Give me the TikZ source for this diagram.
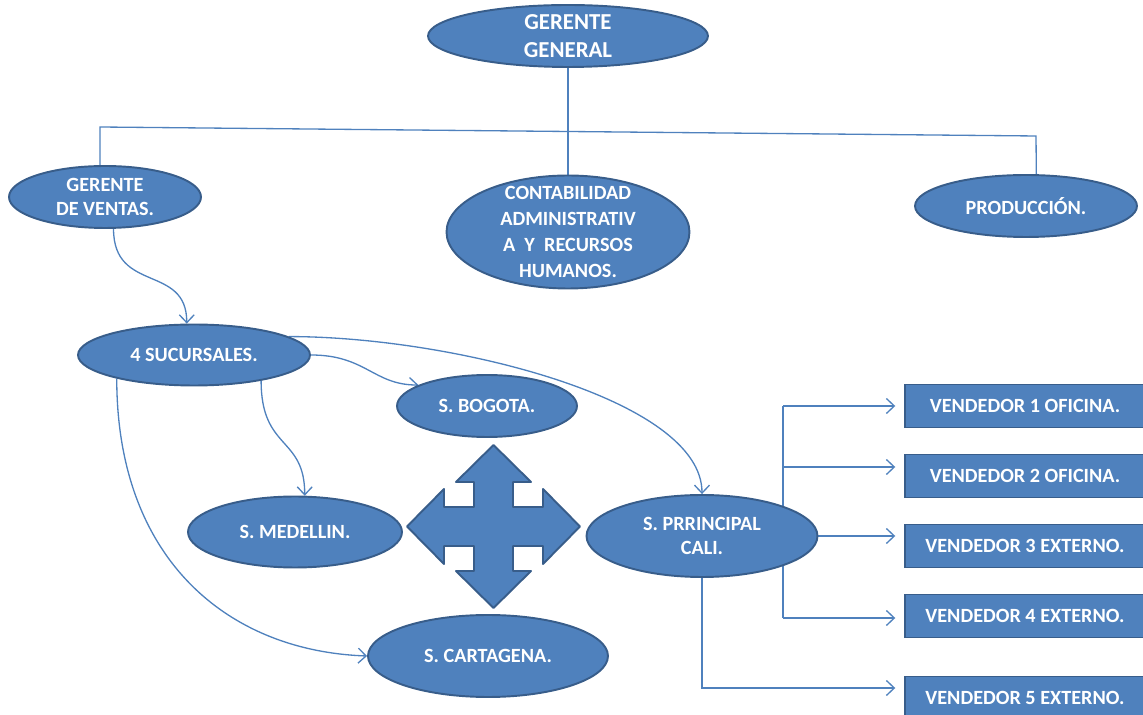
\documentclass[tikz,border=0pt]{standalone}
\usepackage{fontspec}
\setmainfont{Carlito}
\usetikzlibrary{arrows.meta,shapes.geometric,backgrounds}
\definecolor{azul}{HTML}{4F81BD}
\definecolor{borde}{HTML}{385D8A}

\begin{document}
\begin{tikzpicture}
 	[x=0.02cm,y=-0.02cm,
 	oval/.style={ellipse,draw=borde,fill=azul,line width=1.1pt,text=white,
 		inner sep=0pt,align=center,font=\fontsize{11.5}{14}\selectfont\bfseries},
 	caja/.style={rectangle,draw=borde,fill=azul,line width=1.1pt,text=white,
 		inner sep=0pt,minimum width=4.8cm,minimum height=0.86cm,font=\fontsize{11.5}{14}\selectfont\bfseries},
 	cruz/.style={draw=borde,fill=azul,line width=1.1pt,line join=round},
 	link/.style={draw=azul,line width=0.75pt},
 	flecha/.style={link,-{Straight Barb[length=4.5pt,width=8.5pt]}}]
 	\useasboundingbox (0,0) rectangle (1143,715);
 	\clip (0,0) rectangle (1143,715);
 	%  gerencia y areas
 	\node[oval,minimum width=5.6cm,minimum height=1.24cm,font=\fontsize{13}{16}\selectfont\bfseries] (gg) at (568,36) {GERENTE\\GENERAL};
 	\node[oval,minimum width=3.84cm,minimum height=1.24cm] (gv) at (105,197) {GERENTE\\DE VENTAS.};
 	\node[oval,minimum width=4.86cm,minimum height=2.26cm,inner ysep=-5pt,font=\fontsize{11.5}{14.8}\selectfont\bfseries] (cont) at (568,232) {CONTABILIDAD\\ADMINISTRATIV\\A~~Y~~RECURSOS\\HUMANOS.};
 	\node[oval,minimum width=4.44cm,minimum height=1.24cm] (prod) at (1026,206) {PRODUCCIÓN.};
 	%  sucursales
 	\node[oval,minimum width=4.64cm,minimum height=1.22cm] (suc) at (194,355) {4 SUCURSALES.};
 	\node[oval,minimum width=3.6cm,minimum height=1.24cm] (bog) at (487,406) {S. BOGOTA.};
 	\node[oval,minimum width=4.28cm,minimum height=1.42cm] (med) at (295,532) {S. MEDELLIN.};
 	\node[oval,minimum width=4.8cm,minimum height=1.64cm] (cart) at (488,656) {S. CARTAGENA.};
 	\node[oval,minimum width=4.62cm,minimum height=1.64cm] (prin) at (702,536) {S. PRRINCIPAL\\CALI.};
 	%  vendedores
 	\node[caja] (v1) at (1025,406) {VENDEDOR 1 OFICINA.};
 	\node[caja] (v2) at (1025,476) {VENDEDOR 2 OFICINA.};
 	\node[caja] (v3) at (1025,546) {VENDEDOR 3 EXTERNO.};
 	\node[caja] (v4) at (1025,616) {VENDEDOR 4 EXTERNO.};
 	\node[caja] (v5) at (1025,698) {VENDEDOR 5 EXTERNO.};
 	%  flecha de cuatro puntas
 	\draw[cruz,shift={(493.5,526.5)}] (0,-81.5) -- (37.5,-44.5) -- (19.5,-44.5) -- (19.5,-19.5)
 	-- (49.5,-19.5) -- (49.5,-37.5) -- (86.5,0) -- (49.5,37.5) -- (49.5,19.5) -- (19.5,19.5)
 	-- (19.5,44.5) -- (37.5,44.5) -- (0,81.5) -- (-37.5,44.5) -- (-19.5,44.5) -- (-19.5,19.5)
 	-- (-49.5,19.5) -- (-49.5,37.5) -- (-86.5,0) -- (-49.5,-37.5) -- (-49.5,-19.5) -- (-19.5,-19.5)
 	-- (-19.5,-44.5) -- (-37.5,-44.5) -- cycle;
 	%  conectores
 	\coordinate (hl) at (100,127);
 	\coordinate (hr) at (1036,136);
 	\coordinate (b1) at (783,406);
 	\coordinate (b2) at (783,467);
 	\coordinate (b4) at (783,618);
 	\coordinate (b5) at (702,688);
 	\begin{pgfonlayer}{background}
 	\draw[link] (gg.south) -- (cont.north);
 	\draw[link] (gv.99) -- (hl) -- (hr) -- (prod.72);
 	\draw[flecha] (gv.-75) .. controls +(0,65) and +(0,-60) .. (suc.103);
 	\draw[flecha] (suc.east) .. controls +(55,0) and +(-45,0) .. (bog.163);
 	\draw[flecha] (suc.-21) .. controls +(0,70) and +(0,-60) .. (med.75);
 	\draw[flecha] (suc.-163) .. controls +(0,180) and +(-140,-5) .. (cart.west);
 	\draw[flecha] (suc.11) .. controls +(162,0) and +(0,-95) .. (prin.north);
 	\draw[link] (b1) -- (b4);
 	\draw[flecha,shorten >=5pt] (b1) -- (b1 -| v1.west);
 	\draw[flecha,shorten >=5pt] (b2) -- (b2 -| v2.west);
 	\draw[flecha,shorten >=5pt] (prin.east) -- (prin.east -| v3.west);
 	\draw[flecha,shorten >=5pt] (b4) -- (b4 -| v4.west);
 	\draw[flecha,shorten >=5pt] (prin.south) -- (b5) -- (b5 -| v5.west);
 	\end{pgfonlayer}
\end{tikzpicture}
\end{document}
